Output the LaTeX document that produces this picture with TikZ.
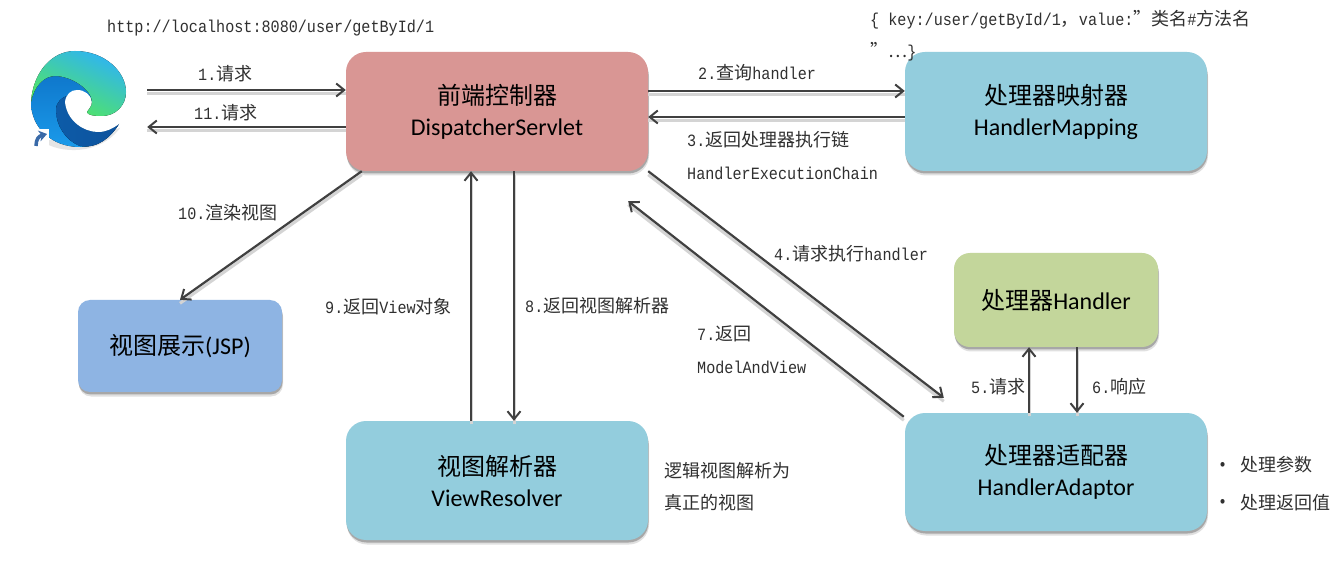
\documentclass[tikz,border=0pt]{standalone}
\usepackage{fontspec}
\setmainfont{Carlito}
\newfontfamily\lblfont[FakeStretch=0.88]{Liberation Mono}
\newfontfamily\cjk{Noto Sans CJK SC}
\usetikzlibrary{arrows.meta,shadows,calc}
\definecolor{dispc}{HTML}{D99694}
\definecolor{bluec}{HTML}{93CDDD}
\definecolor{greenc}{HTML}{C3D69B}
\definecolor{jspc}{HTML}{8EB4E3}
\definecolor{linec}{HTML}{404040}
\definecolor{txtc}{HTML}{303030}
\definecolor{edgeA}{HTML}{2FB4F2}
\definecolor{edgeB}{HTML}{2CC5C8}
\definecolor{edgeC}{HTML}{55EA55}
\definecolor{edgeD}{HTML}{0F78CC}
\definecolor{edgeE}{HTML}{1A9AEA}
\definecolor{edgeF}{HTML}{0D529C}
\definecolor{edgeG}{HTML}{3A6AA8}
\newcommand\cj[1]{{\fontsize{18}{18}\selectfont\cjk #1}}
\newcommand\bx[1]{{\fontsize{24}{24}\selectfont\cjk #1}}
\tikzset{
  softshadow/.style={general shadow={fill=black,opacity=.12,shadow xshift=1pt,shadow yshift=-4.5pt},
                     general shadow={fill=black,opacity=.25,shadow xshift=.5pt,shadow yshift=-2.5pt}},
  boxnode/.style={softshadow,rounded corners=20pt,inner sep=0pt,align=center,text=black,
     font=\fontsize{24}{31}\selectfont},
  conn/.style={draw=linec,line width=2.2pt,-{Straight Barb[length=8pt,width=13pt,line width=2pt]},
     preaction={draw=black!17,-,line width=3pt,transform canvas={yshift=-3.5pt}}},
  lbl/.style={anchor=west,inner sep=0pt,text=txtc,font=\lblfont\fontsize{17.2}{18}\selectfont},
}
\begin{document}
\begin{tikzpicture}[x=1pt,y=-1pt]
\useasboundingbox (0,0) rectangle (1342,577);
\fill[white] (0,0) rectangle (1342,577);

% browser logo
\node[minimum width=134pt,minimum height=100pt,inner sep=0pt] (browser) at (80,102) {};
\fill[black!10] (40,140) .. controls (60,155) and (100,155) .. (120,128) -- (78,140) -- cycle;
% blue body
\fill[top color=edgeD,bottom color=edgeE]
  (31,102) .. controls (34,86) and (44,76) .. (55,76) .. controls (72,76) and (92,90) .. (92,102)
  -- (119,124) .. controls (110,138) and (97,147) .. (80,147)
  .. controls (52,147) and (31,128) .. (31,102) -- cycle;
% dark wave
\fill[left color=edgeF!75!edgeD,right color=edgeF]
  (70,95) .. controls (62,97) and (56,102) .. (56,110) .. controls (56,125) and (65,140) .. (80,146)
  .. controls (98,149) and (111,137) .. (119,124)
  .. controls (112,129) and (106,132) .. (98,132) .. controls (85,132) and (67,122) .. (65,102) -- cycle;
% white hole
\fill[white]
  (65,102) .. controls (66,94) and (71,90) .. (77,90) .. controls (85,90) and (91,95) .. (92,102)
  -- (128,110) -- (119,124)
  .. controls (112,129) and (106,132) .. (98,132) .. controls (85,132) and (67,122) .. (65,102) -- cycle;
% teal top
\fill[left color=edgeA,middle color=edgeB,right color=edgeC,shading angle=-25]
  (31,102) .. controls (33,72) and (52,51) .. (75,51) .. controls (105,51) and (126,72) .. (126,92)
  .. controls (126,106) and (115,116) .. (102,116) .. controls (94,116) and (87,115) .. (87,112)
  .. controls (89,109) and (92,106) .. (92,102) .. controls (92,90) and (72,76) .. (55,76)
  .. controls (44,76) and (34,86) .. (31,102) -- cycle;
% shortcut badge
\fill[white] (33,129) rectangle (49,148);
\draw[edgeG,line width=3.5pt,-{Stealth[length=8pt,width=11pt]}] (36,146) .. controls (36,139) and (39,136) .. (47,134);

% boxes
\node[boxnode,fill=dispc,minimum width=302pt,minimum height=119pt] (disp) at (497,111.5) {\bx{前端控制器}\\DispatcherServlet};
\node[boxnode,fill=bluec,minimum width=302pt,minimum height=119pt] (map) at (1056,111.5) {\bx{处理器映射器}\\HandlerMapping};
\node[boxnode,fill=greenc,minimum width=204pt,minimum height=94pt,rounded corners=16pt] (hand) at (1056,300) {\bx{处理器}Handler};
\node[boxnode,fill=bluec,minimum width=302pt,minimum height=118pt] (adapt) at (1056,472) {\bx{处理器适配器}\\HandlerAdaptor};
\node[boxnode,fill=bluec,minimum width=302pt,minimum height=119pt] (resolv) at (497,480.5) {\bx{视图解析器}\\ViewResolver};
\node[boxnode,fill=jspc,minimum width=204pt,minimum height=92pt,rounded corners=12pt] (jsp) at (180,346) {\bx{视图展示}(JSP)};

% connectors
\draw[conn] (browser.east |- 0,90) -- (disp.west |- 0,90);
\draw[conn] (disp.west |- 0,127) -- (browser.east |- 0,127);
\draw[conn] (disp.east |- 0,91) -- (map.west |- 0,91);
\draw[conn] (map.west |- 0,117) -- (disp.east |- 0,117);
\draw[conn] ($(disp.south west)+(16pt,0)$) -- (jsp.north);
\draw[conn] (471,0 |- resolv.north) -- (471,0 |- disp.south);
\draw[conn] (514,0 |- disp.south) -- (514,0 |- resolv.north);
\draw[conn] (disp.south east) -- ($(adapt.north west)+(39pt,15pt)$);
\draw[conn] ($(adapt.north west)+(-1pt,-4pt)$) -- ($(disp.south east)+(-20pt,-30pt)$);
\draw[conn] (1029,0 |- adapt.north) -- (1029,0 |- hand.south);
\draw[conn] (1077,0 |- hand.south) -- (1077,0 |- adapt.north);

% labels
\node[lbl] (t0) at (107,28) {http://localhost:8080/user/getById/1};
\node[lbl] (t1) at (198,74) {1.\cj{请求}};
\node[lbl] (t2) at (194,113) {11.\cj{请求}};
\node[lbl] (t3) at (698,73) {2.\cj{查询}handler};
\node[lbl] (t4) at (687,140) {3.\cj{返回处理器执行链}};
\node[lbl] (t5) at (687,173) {HandlerExecutionChain};
\node[lbl] (t6) at (870,20) {\{ key:/user/getById/1\cj{，}value:\cj{”类名}\#\cj{方法名}};
\node[lbl] (t7) at (870,52) {\cj{”…}\}};
\node[lbl] (t8) at (774,254) {4.\cj{请求执行}handler};
\node[lbl] (t9) at (178,213) {10.\cj{渲染视图}};
\node[lbl] (t10) at (325,307) {9.\cj{返回}View\cj{对象}};
\node[lbl] (t11) at (525,306) {8.\cj{返回视图解析器}};
\node[lbl] (t12) at (697,334) {7.\cj{返回}};
\node[lbl] (t13) at (697,367) {ModelAndView};
\node[lbl] (t14) at (971,387) {5.\cj{请求}};
\node[lbl] (t15) at (1092,387) {6.\cj{响应}};
\node[lbl] (t16) at (664,471) {\cj{逻辑视图解析为}};
\node[lbl] (t17) at (664,503) {\cj{真正的视图}};
\node[lbl] (t18) at (1218,466) {•};
\node[lbl] (t19) at (1240,465) {\cj{处理参数}};
\node[lbl] (t20) at (1218,503) {•};
\node[lbl] (t21) at (1240,503) {\cj{处理返回值}};
\end{tikzpicture}
\end{document}
